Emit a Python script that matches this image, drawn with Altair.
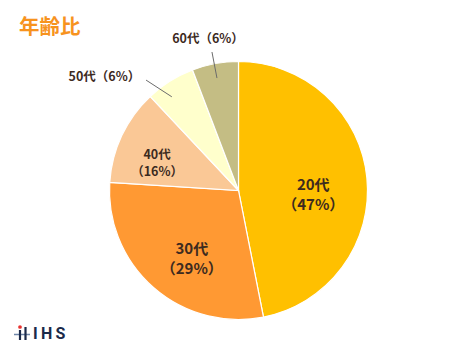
import math
import altair as alt
import pandas as pd

# ---- data ----
ages = ["20代", "30代", "40代", "50代", "60代"]
shares = [46.9, 29.1, 12.0, 6.2, 5.8]          # slice sizes
pct_labels = ["47%", "29%", "16%", "6%", "6%"]  # percentages printed on the chart
colors = ["#FFC000", "#FF9933", "#FAC896", "#FFFFCC", "#C4BD84"]

# ---- layout ----
W, H = 470, 353
CX, CY, R = 238.5, 190.5, 129
label_radius = [75, 75, 89, 176, 155]
label_offset_deg = [1.0, -2.7, -1.4, -17.6, -0.9]
label_size = [15, 15, 12.5, 12.5, 12.5]
label_line_h = [20, 20, 17.5, 15, 15]
label_two_lines = [True, True, True, False, False]
leader = {3: (115, -3.4, 144, -7.9), 4: (114.5, -0.4, 141, -0.4)}
TEXT_COLOR = "#3D2B1F"
FONT = "Noto Sans CJK JP"

total = sum(shares)
rows = []
cum = 0.0
for i, (a, s, p) in enumerate(zip(ages, shares, pct_labels)):
    start = cum / total * 360
    cum += s
    end = cum / total * 360
    mid = (start + end) / 2
    ang = math.radians(mid + label_offset_deg[i])
    r = label_radius[i]
    txt = f"{a}\n（{p}）" if label_two_lines[i] else f"{a}（{p}）"
    rows.append(dict(idx=i, age=a, share=s, label=txt,
                     lx=CX + r * math.sin(ang), ly=CY - r * math.cos(ang)))
df = pd.DataFrame(rows)

lines = []
for i, (r1, o1, r2, o2) in leader.items():
    c0 = sum(shares[:i]) / total * 360
    c1 = sum(shares[:i + 1]) / total * 360
    mid = (c0 + c1) / 2
    a1, a2 = math.radians(mid + o1), math.radians(mid + o2)
    lines.append(dict(x1=CX + r1 * math.sin(a1), y1=CY - r1 * math.cos(a1),
                      x2=CX + r2 * math.sin(a2), y2=CY - r2 * math.cos(a2)))
ldf = pd.DataFrame(lines)

pie = alt.Chart(df).mark_arc(outerRadius=R, stroke="white", strokeWidth=1.2).encode(
    theta=alt.Theta("share:Q", stack=True),
    color=alt.Color("age:N", scale=alt.Scale(domain=ages, range=colors), legend=None),
    order=alt.Order("idx:Q"),
    x=alt.value(CX),
    y=alt.value(CY),
)

leaders = alt.Chart(ldf).mark_rule(color="#6b6b6b", strokeWidth=1).encode(
    x=alt.X("x1:Q", scale=None), y=alt.Y("y1:Q", scale=None),
    x2="x2:Q", y2="y2:Q",
)

label_layers = []
for i in range(len(ages)):
    label_layers.append(
        alt.Chart(df).transform_filter(alt.datum.idx == i).mark_text(
            font=FONT, fontWeight="bold", fontSize=label_size[i],
            lineHeight=label_line_h[i], lineBreak="\n",
            color=TEXT_COLOR, align="center", baseline="middle",
        ).encode(
            x=alt.X("lx:Q", scale=None), y=alt.Y("ly:Q", scale=None), text="label:N"
        )
    )

title = alt.Chart(pd.DataFrame({"t": ["年齢比"]})).mark_text(
    font=FONT, fontWeight="bold", fontSize=20.5, color="#F7931E",
    align="left", baseline="middle",
).encode(x=alt.value(19), y=alt.value(28), text="t:N")

logo = alt.Chart(pd.DataFrame({"t": ["I\u2009H\u2009S"]})).mark_text(
    font="Roboto", fontWeight="bold", fontSize=16, color="#1B2A4A",
    align="left", baseline="middle",
).encode(x=alt.value(33), y=alt.value(334), text="t:N")

icon_dot = alt.Chart(pd.DataFrame({"t": [0]})).mark_point(
    filled=True, color="#E8312F", size=14, opacity=1
).encode(x=alt.value(20), y=alt.value(327))
icon_bar1 = alt.Chart(pd.DataFrame({"t": [0]})).mark_rule(color="#1B2A4A", strokeWidth=2.2).encode(
    x=alt.value(20), y=alt.value(330), y2=alt.value(340))
icon_bar2 = alt.Chart(pd.DataFrame({"t": [0]})).mark_rule(color="#1B2A4A", strokeWidth=2.2).encode(
    x=alt.value(25.5), y=alt.value(327), y2=alt.value(340))
icon_h = alt.Chart(pd.DataFrame({"t": [0]})).mark_rule(color="#6F86A8", strokeWidth=1.5).encode(
    x=alt.value(14), x2=alt.value(30), y=alt.value(334.5))

chart = alt.layer(
    pie, leaders, *label_layers, title, icon_h, icon_bar1, icon_bar2, icon_dot, logo
).properties(
    width=W, height=H, autosize=alt.AutoSizeParams(type="none"), padding=0,
    background="white",
).configure_view(stroke=None)

chart.save("out.html", embed_options={"renderer": "svg", "actions": False})
